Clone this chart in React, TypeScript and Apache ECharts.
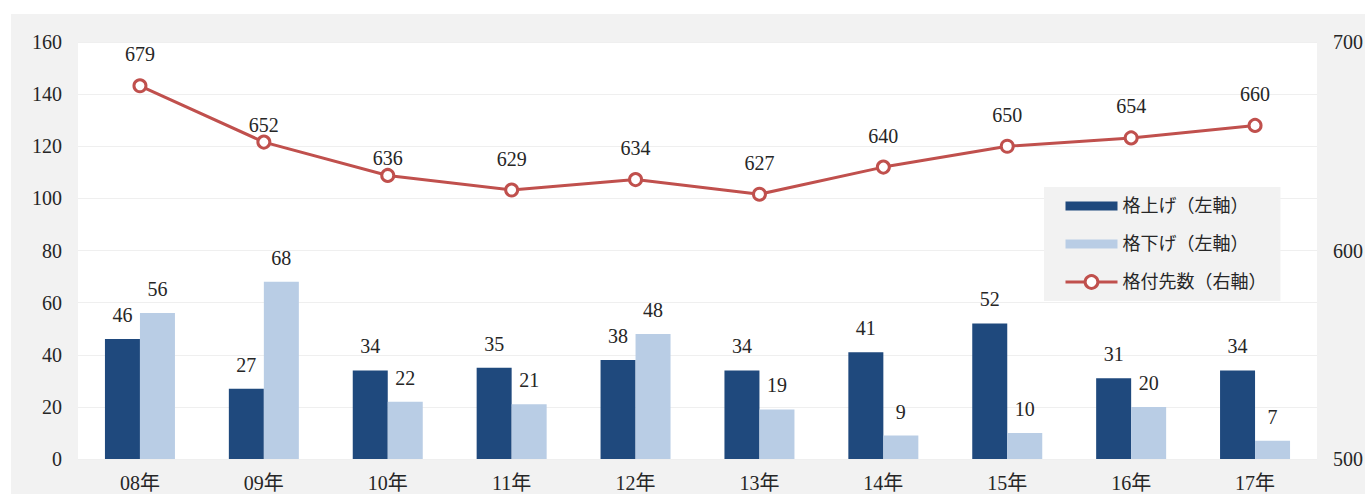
import React, { useEffect, useRef } from "react";
import * as echarts from "echarts";

const categories = ["08年", "09年", "10年", "11年", "12年", "13年", "14年", "15年", "16年", "17年"];
const upgrades = [46, 27, 34, 35, 38, 34, 41, 52, 31, 34];
const downgrades = [56, 68, 22, 21, 48, 19, 9, 10, 20, 7];
const ratedCount = [679, 652, 636, 629, 634, 627, 640, 650, 654, 660];
const leftTicks = { min: 0, max: 160, interval: 20 };
const rightTicks = { min: 500, max: 700, interval: 100 };
const seriesNames = ["格上げ（左軸）", "格下げ（左軸）", "格付先数（右軸）"];

const NUM_FONT = "'Liberation Serif', 'Noto Sans CJK JP', serif";
const TXT = "#262626";

export default function App() {
  const ref = useRef<HTMLDivElement>(null);
  useEffect(() => {
    document.body.style.margin = "0";
    const chart = echarts.init(ref.current!, null, { renderer: "svg" });
    const closeLabels: Record<number, number> = { 1: 0, 2: 0 };
    chart.setOption({
      animation: false,
      graphic: [
        {
          type: "rect",
          z: -10,
          silent: true,
          shape: { x: 11, y: 14, width: 1354, height: 480 },
          style: { fill: "#f2f2f2" },
        },
      ],
      grid: {
        left: 78,
        right: 48,
        top: 42,
        bottom: 35,
        outerBoundsMode: "none",
        containLabel: false,
        show: true,
        backgroundColor: "#ffffff",
        borderWidth: 0,
      },
      legend: {
        data: [
          { name: seriesNames[0], icon: "path://M0,0h52v9h-52z" },
          { name: seriesNames[1], icon: "path://M0,0h52v9h-52z" },
          {
            name: seriesNames[2],
            lineStyle: { width: 3, color: "#c0504d" },
            itemStyle: { color: "#ffffff", borderColor: "#c0504d", borderWidth: 3 },
          },
        ],
        orient: "vertical",
        left: 1044,
        top: 187,
        padding: [10, 14, 10, 20],
        itemGap: 20,
        itemWidth: 52,
        itemHeight: 16,
        backgroundColor: "#f2f2f2",
        textStyle: { fontSize: 18, color: TXT, fontFamily: NUM_FONT },
      },
      xAxis: {
        type: "category",
        data: categories,
        axisLine: { show: false },
        axisTick: { show: false },
        axisLabel: { fontSize: 20, color: TXT, fontFamily: NUM_FONT, margin: 14 },
      },
      yAxis: [
        {
          type: "value",
          ...leftTicks,
          axisLine: { show: false },
          axisTick: { show: false },
          axisLabel: { fontSize: 20, color: TXT, fontFamily: NUM_FONT, margin: 16 },
          splitLine: { lineStyle: { color: "#efefef", width: 1 } },
        },
        {
          type: "value",
          ...rightTicks,
          position: "right",
          axisLine: { show: false },
          axisTick: { show: false },
          axisLabel: { fontSize: 20, color: TXT, fontFamily: NUM_FONT, margin: 16 },
          splitLine: { show: false },
        },
      ],
      series: [
        {
          name: seriesNames[0],
          type: "bar",
          data: upgrades,
          barWidth: 35,
          barGap: "0%",
          itemStyle: { color: "#1f497d" },
          label: {
            show: true,
            position: "top",
            distance: 14,
            fontSize: 20,
            color: TXT,
            fontFamily: NUM_FONT,
          },
        },
        {
          name: seriesNames[1],
          type: "bar",
          data: downgrades,
          barWidth: 35,
          barGap: "0%",
          itemStyle: { color: "#b9cde5" },
          label: {
            show: true,
            position: "top",
            distance: 14,
            fontSize: 20,
            color: TXT,
            fontFamily: NUM_FONT,
          },
        },
        {
          name: seriesNames[2],
          type: "line",
          yAxisIndex: 1,
          data: ratedCount.map((v, i) =>
            closeLabels[i] !== undefined ? { value: v, label: { distance: closeLabels[i] } } : v
          ),
          symbol: "circle",
          symbolSize: 12,
          lineStyle: { color: "#c0504d", width: 3 },
          itemStyle: { color: "#ffffff", borderColor: "#c0504d", borderWidth: 3 },
          label: {
            show: true,
            position: "top",
            distance: 14,
            fontSize: 20,
            color: TXT,
            fontFamily: NUM_FONT,
          },
          z: 5,
        },
      ],
    });
    return () => chart.dispose();
  }, []);
  return <div ref={ref} style={{ width: 1365, height: 494 }} />;
}
